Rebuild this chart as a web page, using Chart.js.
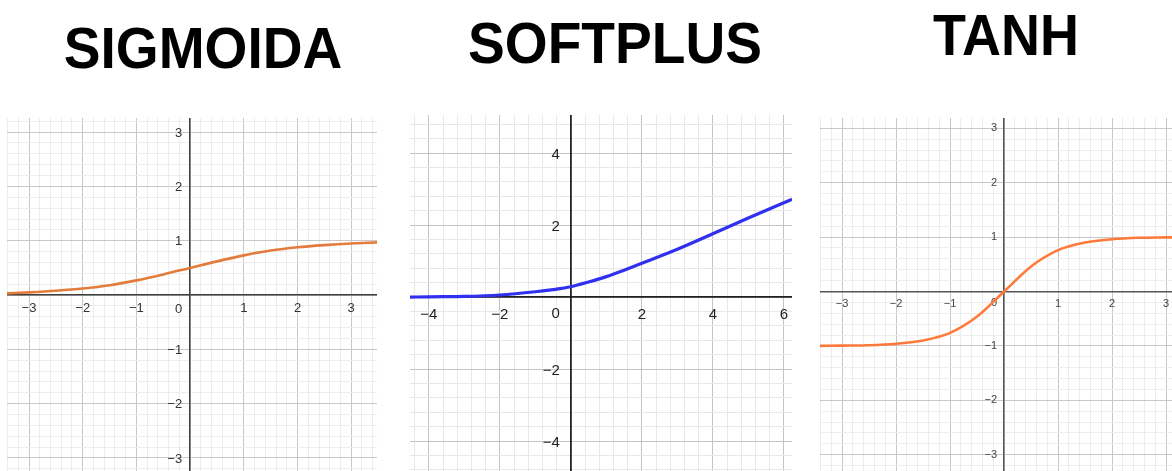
<!DOCTYPE html>
<html>
<head>
<meta charset="utf-8">
<script src="https://cdn.jsdelivr.net/npm/chart.js@4.4.0/dist/chart.umd.min.js"></script>
<style>
  html, body { margin: 0; padding: 0; background: #fff; }
  body { width: 1172px; height: 471px; position: relative; overflow: hidden; font-family: "Liberation Sans", Arial, sans-serif; }
  .judul { position: absolute; font-weight: bold; font-size: 58px; line-height: 1; color: #000; white-space: nowrap; transform: translateX(-50%) scaleX(0.95); }
  .panel { position: absolute; }
</style>
</head>
<body>
<div class="judul" style="left:203px; top:19px;">SIGMOIDA</div>
<div class="judul" style="left:615px; top:14px;">SOFTPLUS</div>
<div class="judul" style="left:1006px; top:6px; transform: translateX(-50%) scaleX(0.93);">TANH</div>

<div class="panel" style="left:7px; top:118px; width:370px; height:353px;"><canvas id="grafikSigmoid"></canvas></div>
<div class="panel" style="left:410px; top:115px; width:382px; height:356px;"><canvas id="grafikSoftplus"></canvas></div>
<div class="panel" style="left:820px; top:118px; width:352px; height:353px;"><canvas id="grafikTanh"></canvas></div>

<script>
// Data
const sigmoidX = [-3.41, -3, -2.5, -2, -1.5, -1, -0.5, 0, 0.5, 1, 1.5, 2, 2.5, 3, 3.48];
const sigmoidY = [0.03, 0.05, 0.08, 0.12, 0.18, 0.27, 0.38, 0.5, 0.62, 0.73, 0.82, 0.88, 0.92, 0.95, 0.97];
const sigmoidLabelX = [-3, -2, -1, 1, 2, 3];
const sigmoidLabelY = [-3, -2, -1, 1, 2, 3];

const softplusX = [-4.53, -4, -3, -2, -1, -0.5, 0, 0.5, 1, 1.5, 2, 3, 4, 5, 6, 6.23];
const softplusY = [0.0, 0.01, 0.02, 0.06, 0.15, 0.21, 0.29, 0.42, 0.57, 0.75, 0.94, 1.33, 1.76, 2.2, 2.62, 2.72];
const softplusLabelX = [-4, -2, 2, 4, 6];
const softplusLabelY = [-4, -2, 2, 4];

const tanhX = [-3.41, -3, -2.5, -2, -1.5, -1, -0.5, 0, 0.5, 1, 1.5, 2, 2.5, 3, 3.11];
const tanhY = [-1.0, -0.995, -0.987, -0.96, -0.9, -0.76, -0.46, 0, 0.46, 0.76, 0.9, 0.96, 0.987, 0.995, 0.996];
const tanhLabelX = [-3, -2, -1, 1, 2, 3];
const tanhLabelY = [-3, -2, -1, 1, 2, 3];

function fmt(v) {
    const r = Math.round(v);
    return r < 0 ? '\u2212' + Math.abs(r) : String(r);
}

function termasuk(arr, v) {
    return arr.some(a => Math.abs(a - v) < 1e-6);
}

function kelipatan(v, step) {
    const q = v / step;
    return Math.abs(q - Math.round(q)) < 1e-6;
}

// Sumbu di tengah tidak perlu ruang tambahan
function tanpaPadding(s) {
    s.paddingTop = 0;
    s.paddingBottom = 0;
    s.paddingLeft = 0;
    s.paddingRight = 0;
}

// Label sumbu-y di kiri sumbu dan label "0" di kiri bawah titik asal
const labelSumbu = {
    id: 'labelSumbu',
    beforeDatasetsDraw(chart, args, opts) {
        const ctx = chart.ctx;
        const sx = chart.scales.x, sy = chart.scales.y;
        const px = sx.getPixelForValue(0);
        const py = sy.getPixelForValue(0);
        ctx.save();
        ctx.font = opts.size + 'px "Liberation Sans", Arial, sans-serif';
        ctx.fillStyle = opts.color;
        ctx.textAlign = 'right';
        ctx.textBaseline = 'middle';
        opts.labels.forEach(v => {
            ctx.fillText(fmt(v), px - opts.dx, sy.getPixelForValue(v) + opts.dyLabel);
        });
        ctx.fillText('0', px - opts.dx, py + opts.dy);
        ctx.restore();
    }
};

function buatGrafik(id, xs, ys, labelX, labelY, o) {
    const titik = xs.map((x, i) => ({ x: x, y: ys[i] }));
    const font = { size: o.fontSize, family: '"Liberation Sans", Arial, sans-serif' };
    return new Chart(document.getElementById(id), {
        type: 'line',
        data: {
            datasets: [{
                data: titik,
                borderColor: o.warna,
                borderWidth: o.tebal,
                pointRadius: 0,
                cubicInterpolationMode: 'monotone',
                fill: false
            }]
        },
        options: {
            responsive: true,
            maintainAspectRatio: false,
            animation: false,
            layout: { padding: 0 },
            plugins: {
                legend: { display: false },
                tooltip: { enabled: false },
                labelSumbu: { size: o.fontSize, color: o.warnaLabel, labels: labelY, dx: o.padY, dy: o.nolDy, dyLabel: o.dyLabel }
            },
            scales: {
                x: {
                    type: 'linear',
                    min: o.xMin,
                    max: o.xMax,
                    position: { y: 0 },
                    afterFit: tanpaPadding,
                    grid: {
                        drawTicks: false,
                        color: c => kelipatan(c.tick.value, o.mayor) ? o.gridMayor : o.gridMinor
                    },
                    border: { color: o.warnaSumbu, width: o.tebalSumbu },
                    ticks: {
                        stepSize: o.minor,
                        autoSkip: false,
                        includeBounds: false,
                        maxRotation: 0,
                        padding: o.padX,
                        color: o.warnaLabel,
                        font: font,
                        callback: v => termasuk(labelX, v) ? fmt(v) : ''
                    }
                },
                y: {
                    type: 'linear',
                    min: o.yMin,
                    max: o.yMax,
                    position: { x: 0 },
                    afterFit: tanpaPadding,
                    grid: {
                        drawTicks: false,
                        color: c => kelipatan(c.tick.value, o.mayor) ? o.gridMayor : o.gridMinor
                    },
                    border: { color: o.warnaSumbu, width: o.tebalSumbu },
                    ticks: {
                        display: false,
                        stepSize: o.minor,
                        autoSkip: false,
                        includeBounds: false
                    }
                }
            }
        },
        plugins: [labelSumbu]
    });
}

buatGrafik('grafikSigmoid', sigmoidX, sigmoidY, sigmoidLabelX, sigmoidLabelY, {
    xMin: -3.41, xMax: 3.48, yMin: -3.24, yMax: 3.26,
    minor: 0.2, mayor: 1,
    warna: '#e37b3c', tebal: 2.6,
    gridMayor: '#c8c8c8', gridMinor: '#ededed',
    warnaSumbu: '#404040', tebalSumbu: 1.5,
    warnaLabel: '#333', fontSize: 13, padX: 6, padY: 8, nolDy: 14, dyLabel: 1
});

buatGrafik('grafikSoftplus', softplusX, softplusY, softplusLabelX, softplusLabelY, {
    xMin: -4.53, xMax: 6.23, yMin: -4.83, yMax: 5.06,
    minor: 0.4, mayor: 2,
    warna: '#3030f0', tebal: 3.2,
    gridMayor: '#c4c4c4', gridMinor: '#e8e8e8',
    warnaSumbu: '#222', tebalSumbu: 1.8,
    warnaLabel: '#222', fontSize: 15, padX: 9, padY: 11, nolDy: 17, dyLabel: 2
});

buatGrafik('grafikTanh', tanhX, tanhY, tanhLabelX, tanhLabelY, {
    xMin: -3.41, xMax: 3.11, yMin: -3.30, yMax: 3.19,
    minor: 0.2, mayor: 1,
    warna: '#ff7a3a', tebal: 2.6,
    gridMayor: '#c8c8c8', gridMinor: '#ededed',
    warnaSumbu: '#555', tebalSumbu: 1.5,
    warnaLabel: '#444', fontSize: 11, padX: 6, padY: 7, nolDy: 11, dyLabel: 0
});
</script>
</body>
</html>
